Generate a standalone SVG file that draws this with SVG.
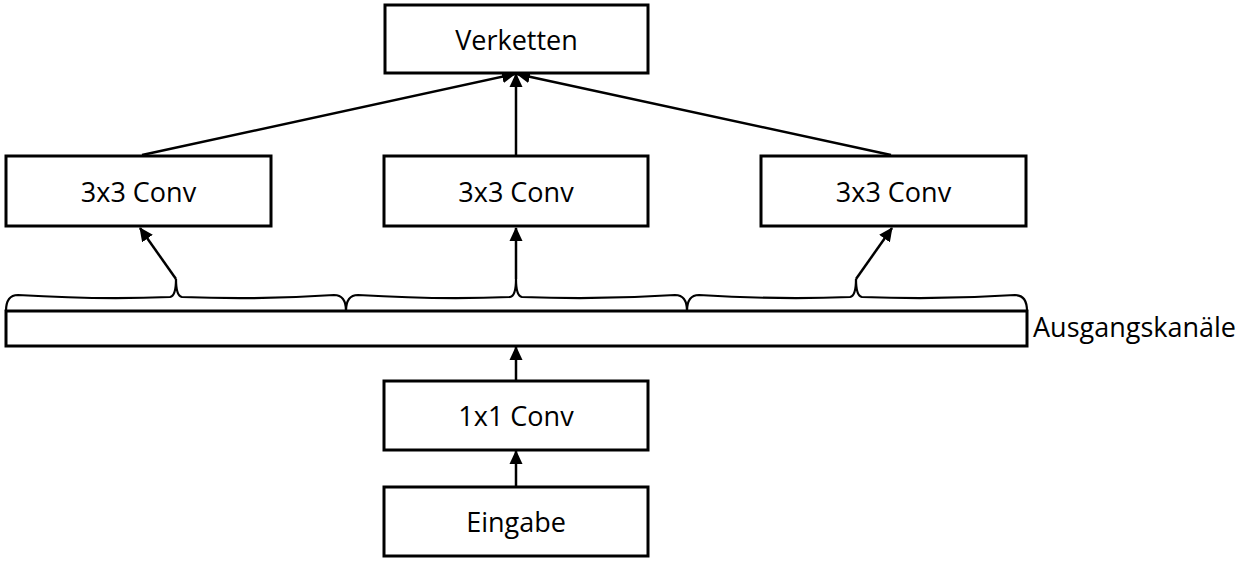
<svg xmlns="http://www.w3.org/2000/svg" width="1240" height="564" viewBox="0 0 1240 564">
<style>
.box{fill:#fff;stroke:#000;stroke-width:3}
.lbl{font-family:"Open Sans","Noto Sans",sans-serif;font-size:27px;fill:#000;text-anchor:middle}
.side{font-family:"Open Sans","Noto Sans",sans-serif;font-size:27px;fill:#000}
.arr{stroke:#000;stroke-width:2.5;fill:none;marker-end:url(#ah)}
.brace{stroke:#000;stroke-width:2.2;fill:none}
</style>
<defs>
<marker id="ah" markerUnits="userSpaceOnUse" markerWidth="14" markerHeight="14" refX="13" refY="7" orient="auto">
<path d="M0,0.5 L14,7 L0,13.5 z" fill="#000"/>
</marker>
</defs>
<rect width="1240" height="564" fill="#fff"/>
<g id="connectors">
<line class="arr" x1="142" y1="155" x2="515" y2="74"/>
<line class="arr" x1="516" y1="155" x2="516" y2="74"/>
<line class="arr" x1="891" y1="155" x2="517" y2="74"/>
<line class="arr" x1="176" y1="279" x2="140" y2="228"/>
<line class="arr" x1="516" y1="279" x2="516" y2="228"/>
<line class="arr" x1="856" y1="279" x2="892" y2="228"/>
<line class="arr" x1="516" y1="380" x2="516" y2="347"/>
<line class="arr" x1="516" y1="486" x2="516" y2="451"/>
</g>
<g id="braces">
<path class="brace" d="M6,311 Q6,295 18,295 Q100,300 170,297 Q176,296 176,279 Q176,296 182,297 Q260,300 334,295 Q346,295 346,311"/>
<path class="brace" d="M346,311 Q346,295 358,295 Q440,300 510,297 Q516,296 516,279 Q516,296 522,297 Q600,300 675,295 Q687,295 687,311"/>
<path class="brace" d="M687,311 Q687,295 699,295 Q780,300 850,297 Q856,296 856,279 Q856,296 862,297 Q940,300 1015,295 Q1027,295 1027,311"/>
</g>
<g id="verketten">
<rect class="box" x="385" y="5" width="263" height="68"/>
<text class="lbl" x="516.5" y="50">Verketten</text>
</g>
<g id="conv3x3-left">
<rect class="box" x="6" y="156" width="265" height="70"/>
<text class="lbl" x="138.5" y="202">3x3 Conv</text>
</g>
<g id="conv3x3-mid">
<rect class="box" x="384" y="156" width="264" height="70"/>
<text class="lbl" x="516" y="202">3x3 Conv</text>
</g>
<g id="conv3x3-right">
<rect class="box" x="761" y="156" width="265" height="70"/>
<text class="lbl" x="893.5" y="202">3x3 Conv</text>
</g>
<g id="ausgangskanaele">
<rect class="box" x="6" y="311" width="1021" height="35"/>
<text class="side" x="1033" y="337">Ausgangskanäle</text>
</g>
<g id="conv1x1">
<rect class="box" x="384" y="381" width="264" height="69"/>
<text class="lbl" x="516" y="426">1x1 Conv</text>
</g>
<g id="eingabe">
<rect class="box" x="384" y="487" width="264" height="69"/>
<text class="lbl" x="516" y="532">Eingabe</text>
</g>
</svg>
